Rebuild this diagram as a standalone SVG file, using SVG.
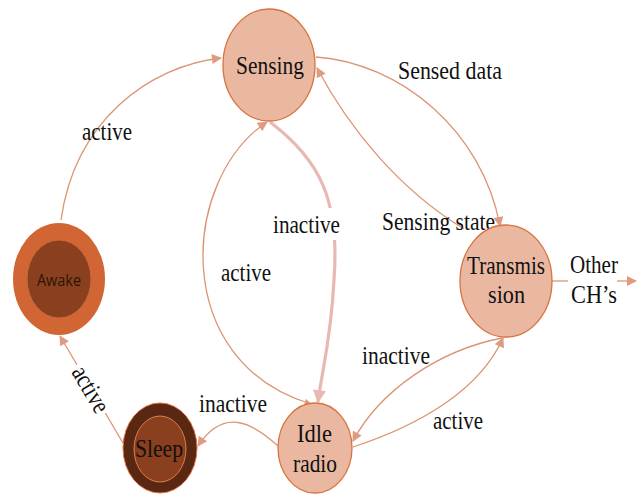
<svg xmlns="http://www.w3.org/2000/svg" width="637" height="496" viewBox="0 0 637 496">
<style>
.lbl{font-family:"Liberation Serif","Times New Roman",serif;font-size:26px;fill:#111;}
.node{fill:#EAB8A0;stroke:#D8733F;stroke-width:1.3;}
.edge{fill:none;stroke:#DC9472;stroke-width:1.3;}
.thick{fill:none;stroke:#E8B8B3;stroke-width:3.2;}
</style>
<defs>
<marker id="ah" viewBox="0 0 10 10" refX="9" refY="5" markerWidth="11" markerHeight="10" markerUnits="userSpaceOnUse" orient="auto">
<path d="M0,0 L10,5 L0,10 z" fill="#DE9B80"/>
</marker>
<marker id="ahs" viewBox="0 0 10 10" refX="9" refY="5" markerWidth="8" markerHeight="7" markerUnits="userSpaceOnUse" orient="auto-start-reverse">
<path d="M0,0 L10,5 L0,10 z" fill="#DE9B80"/>
</marker>
<marker id="ahp" viewBox="0 0 10 10" refX="9" refY="5" markerWidth="16" markerHeight="13" markerUnits="userSpaceOnUse" orient="auto">
<path d="M0,0 L10,5 L0,10 z" fill="#E8B8B3"/>
</marker>
</defs>
<rect width="637" height="496" fill="#fff"/>
<g id="connectors">
<path class="edge" d="M61,220 C75,120 150,66 221,58" marker-end="url(#ah)"/>
<path class="edge" d="M316,57 C400,63 482,130 500,226" marker-end="url(#ah)"/>
<path class="edge" d="M464,229 C400,190 350,130 317,68" marker-end="url(#ah)"/>
<path class="edge" d="M311,404 C170,362 180,180 267,122" marker-end="url(#ah)" marker-start="url(#ahs)"/>
<path class="thick" d="M270,122 C320,160 340,200 334,280 C331,340 322,370 318,402" marker-end="url(#ahp)"/>
<path class="edge" d="M278,446 C255,425 225,405 198,446" marker-end="url(#ah)"/>
<path class="edge" d="M123,443 L60,336" marker-end="url(#ah)"/>
<path class="edge" d="M502,338 C440,350 380,390 353,441" marker-end="url(#ah)"/>
<path class="edge" d="M353,447 C420,425 480,390 503,338" marker-end="url(#ah)"/>
<path class="edge" d="M552,281 L568,281"/>
<path class="edge" d="M617,281 L636,281" marker-end="url(#ah)"/>
</g>
<g id="labels">
<text class="lbl" x="82" y="140" textLength="50" lengthAdjust="spacingAndGlyphs">active</text>
<text class="lbl" x="398" y="79" textLength="104" lengthAdjust="spacingAndGlyphs">Sensed data</text>
<text class="lbl" x="382" y="230" textLength="113" lengthAdjust="spacingAndGlyphs">Sensing state</text>
<rect x="271" y="208" width="72" height="32" fill="#fff"/>
<text class="lbl" x="273" y="233" textLength="67" lengthAdjust="spacingAndGlyphs">inactive</text>
<text class="lbl" x="221" y="281" textLength="50" lengthAdjust="spacingAndGlyphs">active</text>
<text class="lbl" x="570" y="273" textLength="48" lengthAdjust="spacingAndGlyphs">Other</text>
<text class="lbl" x="571" y="303" textLength="46" lengthAdjust="spacingAndGlyphs">CH’s</text>
<text class="lbl" x="362" y="364" textLength="68" lengthAdjust="spacingAndGlyphs">inactive</text>
<text class="lbl" x="433" y="429" textLength="50" lengthAdjust="spacingAndGlyphs">active</text>
<text class="lbl" x="199" y="412" textLength="68" lengthAdjust="spacingAndGlyphs">inactive</text>
<g transform="translate(83.5,393.5) rotate(59.7)">
<rect x="-28" y="-19" width="56" height="25" fill="#fff"/>
<text class="lbl" x="0" y="0" text-anchor="middle" textLength="50" lengthAdjust="spacingAndGlyphs">active</text>
</g>
</g>
<g id="sensing">
<ellipse class="node" cx="269" cy="65" rx="46" ry="56"/>
<text class="lbl" x="236" y="74" textLength="68" lengthAdjust="spacingAndGlyphs">Sensing</text>
</g>
<g id="transmission">
<ellipse class="node" cx="506" cy="281" rx="46" ry="56"/>
<text class="lbl" x="467" y="274" textLength="78" lengthAdjust="spacingAndGlyphs">Transmis</text>
<text class="lbl" x="488" y="303" textLength="37" lengthAdjust="spacingAndGlyphs">sion</text>
</g>
<g id="idle">
<ellipse class="node" cx="315" cy="448" rx="37" ry="45"/>
<text class="lbl" x="297" y="442" textLength="35" lengthAdjust="spacingAndGlyphs">Idle</text>
<text class="lbl" x="293" y="472" textLength="44" lengthAdjust="spacingAndGlyphs">radio</text>
</g>
<g id="awake">
<ellipse cx="59" cy="279" rx="46" ry="56" fill="#D16534"/>
<ellipse cx="59" cy="279" rx="32" ry="39" fill="#8A3F1E" stroke="#C9693C" stroke-width="1"/>
<text x="37" y="286" textLength="44" lengthAdjust="spacingAndGlyphs" style="font-family:'Open Sans','Noto Sans',sans-serif;font-size:17px;fill:#2a140a;">Awake</text>
</g>
<g id="sleep">
<ellipse cx="160" cy="448" rx="37" ry="45" fill="#5A2712" stroke="#D8733F" stroke-width="1"/>
<ellipse cx="160" cy="449" rx="26" ry="33" fill="#8A3F1E" stroke="#D8804F" stroke-width="1"/>
<text class="lbl" x="135" y="457" textLength="48" lengthAdjust="spacingAndGlyphs">Sleep</text>
</g>
</svg>
